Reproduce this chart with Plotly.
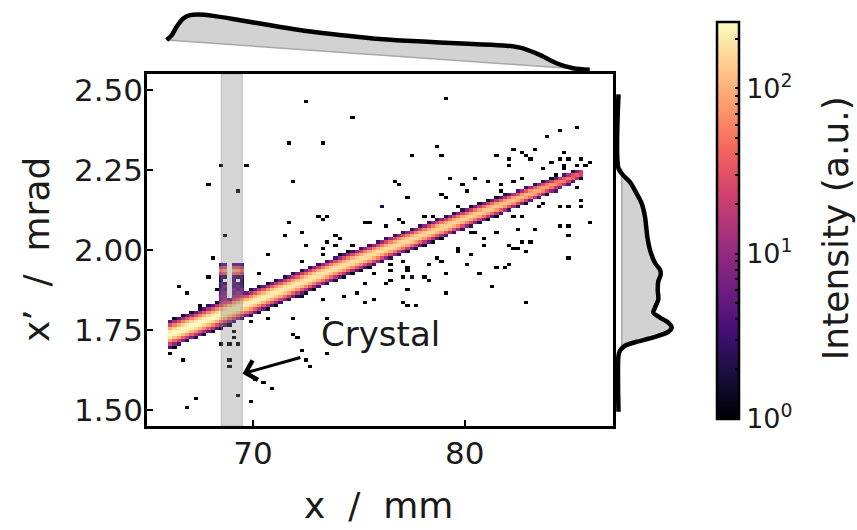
import numpy as np
import plotly.graph_objects as go

# ---------------- data ----------------
# main beam (2D histogram ridge): knots along x (mm)
beam_knot_x = [66.0, 68.0, 70.0, 72.0, 74.0, 76.0, 78.0, 80.0, 82.0, 83.5, 84.5, 85.6]
beam_knot_y = [1.733, 1.785, 1.837, 1.890, 1.944, 1.995, 2.046, 2.097, 2.148, 2.187, 2.213, 2.242]
beam_peak = [250, 245, 220, 200, 185, 175, 165, 150, 130, 100, 65, 30]
beam_sigma = [0.0140, 0.0135, 0.013, 0.0125, 0.012, 0.0115, 0.011, 0.0105, 0.0095, 0.0085, 0.0075, 0.0055]

# crystal region counts (columns x, rows y)
crystal_x = [68.6, 68.8, 69.0, 69.2, 69.4]
crystal_y = [1.955, 1.945, 1.935, 1.925, 1.915, 1.905, 1.895, 1.885, 1.875, 1.865, 1.855, 1.845, 1.835]
crystal_counts = [
    [3, 4, 4, 4, 3],
    [20, 30, 35, 30, 20],
    [60, 90, 100, 90, 50],
    [25, 40, 45, 40, 25],
    [3, 2, 4, 2, 3],
    [2, 0, 3, 0, 2],
    [4, 2, 5, 3, 2],
    [3, 6, 4, 5, 3],
    [5, 4, 7, 4, 6],
    [6, 8, 6, 9, 5],
    [8, 10, 9, 8, 7],
    [7, 9, 10, 8, 6],
    [9, 10, 12, 10, 8],
]

# extra low-count cells near the beam end
tail_x = [84.5, 84.7, 84.3, 84.9, 84.1]
tail_y = [2.195, 2.200, 2.185, 2.205, 2.180]
tail_counts = [4, 5, 3, 3, 2]

# isolated single counts
dot_x = [72.53, 74.73, 71.71, 73.30, 68.54, 69.70, 67.89, 69.31, 71.92, 76.07,
         71.71, 73.10, 73.52, 73.30, 75.33, 75.52, 68.73, 71.53, 72.34, 73.92,
         74.12, 72.55, 73.52, 73.30, 73.92, 74.73,
         79.14, 85.35, 84.53, 83.93, 78.74, 77.53, 78.93, 81.53, 82.36, 82.72,
         82.96, 83.30, 82.09, 82.10, 83.14, 83.73, 84.14, 84.53, 84.75, 84.98,
         84.75, 84.75, 85.50, 85.93, 85.35, 85.71, 84.32, 76.74, 76.93, 79.29,
         80.52, 79.92, 80.12, 81.11, 81.72, 81.72, 81.93, 82.36, 82.75, 78.93,
         79.14, 79.76, 77.33, 76.15, 85.35, 85.55, 85.55, 84.95, 84.56, 83.54,
         83.73, 85.93, 84.95, 84.53, 83.35, 82.56, 84.95, 82.36, 82.75, 76.93,
         77.09, 78.11, 78.51, 76.31, 77.17, 80.31, 80.55, 81.52, 80.99, 79.76,
         80.89, 82.15, 82.36, 82.75, 83.14, 82.56,
         68.10, 70.69, 72.31, 73.29, 66.53, 66.92, 67.91, 70.30, 67.50, 67.94,
         68.29, 71.84, 72.34, 73.68, 74.07, 75.33, 75.80, 72.31, 73.29, 74.31,
         74.94, 75.33, 75.80, 69.98, 70.69, 71.87, 73.52, 66.29, 66.13, 66.71,
         68.54, 68.96, 69.32, 69.07, 69.07, 71.87, 72.11, 72.34, 72.55, 72.66,
         73.52, 68.88, 68.88, 70.14, 70.53, 70.90, 67.28, 66.92, 69.28, 69.95,
         79.72, 80.32, 82.91, 84.96, 76.54, 76.54, 77.09, 77.22, 77.22, 77.17,
         77.41, 77.56, 76.31, 76.54, 77.33, 77.09, 77.33, 77.72, 78.11, 78.32,
         78.32, 78.75, 78.98, 79.14, 79.14, 80.13, 80.71, 81.34, 81.53, 81.93,
         82.12, 82.91]
dot_y = [2.466, 2.416, 2.339, 2.339, 2.267, 2.267, 2.206, 2.185, 2.216, 2.135,
         2.088, 2.109, 2.109, 2.098, 2.088, 2.088, 2.047, 2.047, 2.057, 2.047,
         2.036, 2.016, 2.026, 2.005, 2.016, 2.016,
         2.476, 2.385, 2.370, 2.359, 2.328, 2.298, 2.298, 2.298, 2.318, 2.307,
         2.297, 2.318, 2.283, 2.269, 2.287, 2.257, 2.276, 2.287, 2.305, 2.287,
         2.266, 2.254, 2.287, 2.276, 2.266, 2.262, 2.238, 2.217, 2.204, 2.225,
         2.225, 2.207, 2.186, 2.217, 2.204, 2.189, 2.176, 2.217, 2.225, 2.173,
         2.163, 2.135, 2.163, 2.135, 2.197, 2.155, 2.135, 2.135, 2.135, 2.135,
         2.145, 2.088, 2.078, 2.078, 2.069, 2.069, 2.047, 2.109, 2.109, 2.098,
         2.088, 2.109, 2.109, 2.078, 2.047, 2.057, 2.059, 2.057, 2.036, 2.005,
         2.018, 2.018, 2.007, 2.026, 2.026, 2.000,
         1.975, 1.986, 1.965, 1.986, 1.884, 1.868, 1.916, 1.923, 1.827, 1.820,
         1.874, 1.902, 1.887, 1.944, 1.923, 1.897, 1.923, 1.851, 1.841, 1.856,
         1.868, 1.835, 1.840, 1.779, 1.786, 1.786, 1.786, 1.765, 1.672, 1.654,
         1.706, 1.706, 1.706, 1.742, 1.727, 1.737, 1.723, 1.685, 1.654, 1.634,
         1.675, 1.654, 1.636, 1.597, 1.587, 1.566, 1.535, 1.503, 1.545, 1.525,
         1.996, 1.986, 1.996, 1.975, 1.955, 1.934, 1.965, 1.944, 1.934, 1.913,
         1.913, 1.913, 1.894, 1.904, 1.873, 1.837, 1.827, 1.827, 1.913, 1.903,
         1.955, 1.975, 1.965, 1.926, 1.869, 1.955, 1.926, 1.884, 1.946, 1.946,
         1.955, 1.837]

# top marginal (projection on x), heights in arbitrary units
top_x = [65.93, 66.17, 66.40, 66.71, 67.03, 67.42, 68.13, 69.39, 70.96, 72.53, 74.10,
         75.67, 77.25, 78.82, 80.39, 81.97, 82.75, 83.54, 84.33, 85.11, 85.90]
top_h = [33.7, 38.7, 47.0, 55.3, 58.7, 59.3, 58.0, 53.7, 48.0, 42.7, 38.7,
         35.3, 33.0, 31.3, 29.7, 28.0, 25.3, 18.7, 10.3, 5.3, 3.7]
top_base_x = [65.93, 85.90]
top_base_h = [33.7, 3.7]

# right marginal (projection on x'), widths in arbitrary units
right_y = [2.4876, 2.2556, 2.2339, 2.2130, 2.1770, 2.1460, 2.1043, 2.0422, 2.0009,
           1.9596, 1.9388, 1.9233, 1.9025, 1.8767, 1.8457, 1.8199, 1.8043, 1.7888,
           1.7733, 1.7578, 1.7441, 1.7267, 1.7130, 1.7006, 1.6851, 1.6700, 1.4938]
right_w = [4.5, 4.5, 9.3, 16.0, 22.7, 27.7, 31.0, 33.3, 36.0,
           41.0, 46.0, 46.7, 44.3, 43.7, 44.3, 41.0, 39.3, 46.0,
           54.3, 57.7, 54.3, 39.3, 22.7, 11.0, 6.0, 4.5, 4.5]
right_base_y = [2.2556, 1.6851]
right_base_w = [7.7, 7.7]

x_ticks = [70, 80]
y_ticks = [1.50, 1.75, 2.00, 2.25, 2.50]
cbar_major = [1, 10, 100]
cbar_ticks = [1, 2, 3, 4, 5, 6, 7, 8, 9, 10, 20, 30, 40, 50, 60, 70, 80, 90, 100, 200]
cbar_max = 253

# ---------------- build the histogram grid ----------------
x0, dx, nx = 65.0, 0.2, 110
y0, dy, ny = 1.45, 0.01, 110
xc = x0 + dx * (np.arange(nx) + 0.5)
yc = y0 + dy * (np.arange(ny) + 0.5)
counts = np.zeros((ny, nx))

for i, xv in enumerate(xc):
    if xv < beam_knot_x[0] - 0.05 or xv > beam_knot_x[-1] + 0.05:
        continue
    cy = np.interp(xv, beam_knot_x, beam_knot_y)
    pk = np.interp(xv, beam_knot_x, beam_peak)
    sg = np.interp(xv, beam_knot_x, beam_sigma)
    counts[:, i] += pk * np.exp(-0.5 * ((yc - cy) / sg) ** 2)

def cell(xv, yv):
    return int(np.floor((yv - y0) / dy)), int(np.floor((xv - x0) / dx))

for r, yv in enumerate(crystal_y):
    for c, xv in enumerate(crystal_x):
        j, i = cell(xv, yv)
        counts[j, i] += crystal_counts[r][c]
for xv, yv, n in zip(tail_x, tail_y, tail_counts):
    j, i = cell(xv, yv)
    counts[j, i] += n
for xv, yv in zip(dot_x, dot_y):
    j, i = cell(xv, yv)
    counts[j, i] += 1

zlog = [[(float(np.log10(v)) if v >= 1 else None) for v in row] for row in counts]

# ---------------- figure ----------------
W, H = 857, 530
def fx(p):
    return p / W
def fy(p):
    return 1 - p / H

FONT = "DejaVu Sans"
TXT = "#1a1a1a"
FILL = "#d2d2d2"

fig = go.Figure()

fig.add_trace(go.Heatmap(
    x=xc, y=yc, z=zlog, colorscale="Magma", zmin=0, zmax=float(np.log10(cbar_max)),
    xaxis="x", yaxis="y", hoverinfo="skip",
    colorbar=dict(
        x=fx(707), xanchor="left", y=fy(220), yanchor="middle",
        len=420 / H, lenmode="fraction", thickness=22,
        outlinewidth=2.5, outlinecolor="black",
        tickmode="array",
        tickvals=[float(np.log10(v)) for v in cbar_ticks],
        ticktext=[("10<sup>%d</sup>" % int(round(np.log10(v)))) if v in cbar_major else "" for v in cbar_ticks],
        ticks="inside", ticklen=5, tickwidth=1.5, tickcolor="black",
        tickfont=dict(family=FONT, size=27, color=TXT),
    ),
))

# top marginal
fig.add_trace(go.Scatter(x=top_base_x, y=top_base_h, mode="lines",
                         line=dict(color="#a8a8a8", width=1.5),
                         xaxis="x2", yaxis="y2", showlegend=False, hoverinfo="skip"))
fig.add_trace(go.Scatter(x=top_x, y=top_h, mode="lines", fill="tonexty",
                         fillcolor=FILL,
                         line=dict(color="black", width=4.5, shape="spline", smoothing=0.8),
                         xaxis="x2", yaxis="y2", showlegend=False, hoverinfo="skip"))

# right marginal
fig.add_trace(go.Scatter(x=right_base_w, y=right_base_y, mode="lines",
                         line=dict(color="#a8a8a8", width=1.5),
                         xaxis="x3", yaxis="y3", showlegend=False, hoverinfo="skip"))
fig.add_trace(go.Scatter(x=right_w[1:-2], y=right_y[1:-2], mode="lines", fill="tonextx",
                         fillcolor=FILL,
                         line=dict(color="rgba(0,0,0,0)", width=0, shape="spline", smoothing=0.8),
                         xaxis="x3", yaxis="y3", showlegend=False, hoverinfo="skip"))
fig.add_trace(go.Scatter(x=right_w, y=right_y, mode="lines",
                         line=dict(color="black", width=4.5, shape="spline", smoothing=0.8),
                         xaxis="x3", yaxis="y3", showlegend=False, hoverinfo="skip"))

# crystal band
fig.add_shape(type="rect", xref="x", yref="y domain", x0=68.5, x1=69.5, y0=0, y1=1,
              fillcolor="rgba(128,128,128,0.33)", line=dict(color="rgba(120,120,120,0.35)", width=1),
              layer="above")

axis_common = dict(showgrid=False, zeroline=False, ticks="inside", ticklen=6, tickwidth=1.5,
                   tickcolor="black", showline=True, linecolor="black", linewidth=2.5,
                   mirror=True, tickfont=dict(family=FONT, size=31, color=TXT))

fig.update_layout(
    width=W, height=H, margin=dict(l=0, r=0, t=0, b=0),
    paper_bgcolor="white", plot_bgcolor="white", showlegend=False,
    xaxis=dict(domain=[fx(147), fx(613)], range=[65, 87], tickmode="array",
               tickvals=x_ticks, ticktext=[str(v) for v in x_ticks],
               ticklabelstandoff=-2, anchor="y", **axis_common),
    yaxis=dict(domain=[fy(427), fy(73)], range=[1.45, 2.55], tickmode="array",
               tickvals=y_ticks, ticktext=["%.2f" % v for v in y_ticks],
               ticklabelstandoff=-5, anchor="x", **axis_common),
    xaxis2=dict(domain=[fx(147), fx(613)], range=[65, 87], visible=False, anchor="y2"),
    yaxis2=dict(domain=[fy(72), 1.0], range=[0, 72], visible=False, anchor="x2"),
    xaxis3=dict(domain=[fx(614), fx(700)], range=[0, 86], visible=False, anchor="y3"),
    yaxis3=dict(domain=[fy(427), fy(73)], range=[1.45, 2.55], visible=False, anchor="x3"),
)

fig.add_annotation(x=73.13, y=1.737, xref="x", yref="y", text="Crystal", showarrow=False,
                   xanchor="left", yanchor="middle", font=dict(family=FONT, size=34, color=TXT))
fig.add_annotation(x=69.51, y=1.613, ax=72.31, ay=1.665, xref="x", yref="y", axref="x", ayref="y",
                   text="", showarrow=True, arrowhead=4, arrowsize=1.3, arrowwidth=3,
                   arrowcolor="black")
fig.add_annotation(x=fx(36), y=fy(250), xref="paper", yref="paper", text="x’\u00a0 /\u00a0 mrad",
                   textangle=-90, showarrow=False, xanchor="center", yanchor="middle",
                   font=dict(family=FONT, size=36, color=TXT))
fig.add_annotation(x=fx(378), y=fy(507), xref="paper", yref="paper", text="x\u00a0 /\u00a0 mm",
                   showarrow=False, xanchor="center", yanchor="middle",
                   font=dict(family=FONT, size=36, color=TXT))
fig.add_annotation(x=fx(835), y=fy(228), xref="paper", yref="paper", text="Intensity (a.u.)",
                   textangle=-90, showarrow=False, xanchor="center", yanchor="middle",
                   font=dict(family=FONT, size=36, color=TXT))

fig.write_html("out.html")
